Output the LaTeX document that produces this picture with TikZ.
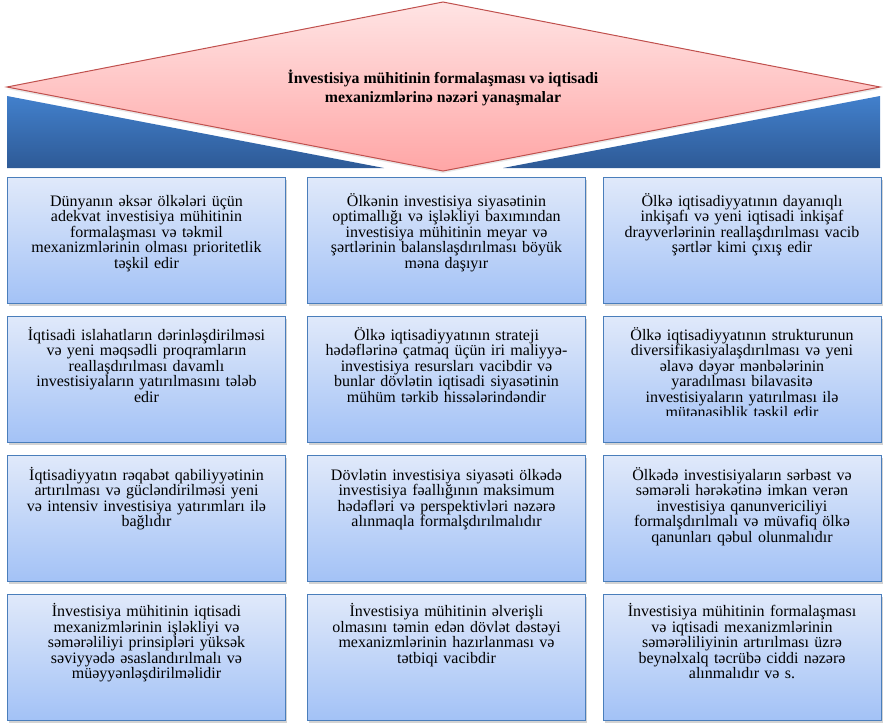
\documentclass[tikz,border=0pt]{standalone}
\usepackage{fontspec}
\setmainfont{Liberation Serif}
\usetikzlibrary{positioning,shadows}
\definecolor{boxtop}{RGB}{224,233,250}
\definecolor{boxbot}{RGB}{163,194,246}
\definecolor{boxline}{RGB}{74,126,187}
\definecolor{pinktop}{RGB}{255,228,228}
\definecolor{pinkbot}{RGB}{255,166,166}
\definecolor{redline}{RGB}{192,80,77}
\definecolor{wedgetop}{RGB}{66,128,204}
\definecolor{wedgebot}{RGB}{46,90,150}
\tikzset{
  infobox/.style={draw=boxline,line width=1pt,top color=boxtop,bottom color=boxbot,
    minimum width=278pt,minimum height=126pt,inner sep=0pt,
    drop shadow={shadow xshift=1.5pt,shadow yshift=-2.5pt,opacity=.35}},
  infotext/.style={text width=290pt,align=center,inner sep=0pt,
    font={\fontsize{16}{15.5}\selectfont\lineskiplimit=-20pt},
    execute at begin node={\rule{0pt}{14pt}}},
  wedge/.style={top color=wedgetop,bottom color=wedgebot},
}

\begin{document}
\begin{tikzpicture}[x=1pt,y=-1pt]
\useasboundingbox (0,0) rectangle (884,723);
% blue wedges under the title
\shade[wedge] (7,96) -- (384,168) -- (7,168) -- cycle;
\shade[wedge] (880,96) -- (503,168) -- (880,168) -- cycle;
% title diamond
\path[draw=redline,line width=1pt,top color=pinktop,bottom color=pinkbot,
  drop shadow={shadow xshift=0pt,shadow yshift=-2pt,opacity=.18}]
  (7,87) -- (443,2) -- (880,87) -- (443,171) -- cycle;
\node[font={\bfseries\fontsize{15.8}{19}\selectfont},align=center] (title) at (443,88)
  {İnvestisiya mühitinin formalaşması və iqtisadi\\ mexanizmlərinə nəzəri yanaşmalar};

% row 1
\node[infobox] (b11) at (146.5,240.5) {};
\node[infobox] (b12) at (446.5,240.5) {};
\node[infobox] (b13) at (742,240.5) {};
\node[infotext,below=15pt of b11.north] (t11) {Dünyanın əksər ölkələri üçün\\ adekvat investisiya mühitinin\\ formalaşması və təkmil\\ mexanizmlərinin olması prioritetlik\\ təşkil edir};
\node[infotext,below=15pt of b12.north] (t12) {Ölkənin investisiya siyasətinin\\ optimallığı və işləkliyi baxımından\\ investisiya mühitinin meyar və\\ şərtlərinin balanslaşdırılması böyük\\ məna daşıyır};
\node[infotext,below=15pt of b13.north] (t13) {Ölkə iqtisadiyyatının dayanıqlı\\ inkişafı və yeni iqtisadi inkişaf\\ drayverlərinin reallaşdırılması vacib\\ şərtlər kimi çıxış edir};

% row 2
\node[infobox] (b21) at (146.5,379.5) {};
\node[infobox] (b22) at (446.5,379.5) {};
\node[infobox] (b23) at (742,379.5) {};
\node[infotext,below=10pt of b21.north] (t21) {İqtisadi islahatların dərinləşdirilməsi\\ və yeni məqsədli proqramların\\ reallaşdırılması davamlı\\ investisiyaların yatırılmasını tələb\\ edir};
\node[infotext,below=10pt of b22.north] (t22) {Ölkə iqtisadiyyatının strateji\\ hədəflərinə çatmaq üçün iri maliyyə-\\ investisiya resursları vacibdir və\\ bunlar dövlətin iqtisadi siyasətinin\\ mühüm tərkib hissələrindəndir};
\begin{scope}
\clip (604,317) rectangle (880,415);
\node[infotext,below=10pt of b23.north] (t23) {Ölkə iqtisadiyyatının strukturunun\\ diversifikasiyalaşdırılması və yeni\\ əlavə dəyər mənbələrinin\\ yaradılması bilavasitə\\ investisiyaların yatırılması ilə\\ mütənasiblik təşkil edir};
\end{scope}

% row 3
\node[infobox] (b31) at (146.5,518.5) {};
\node[infobox] (b32) at (446.5,518.5) {};
\node[infobox] (b33) at (742,518.5) {};
\node[infotext,below=11pt of b31.north] (t31) {İqtisadiyyatın rəqabət qabiliyyətinin\\ artırılması və gücləndirilməsi yeni\\ və intensiv investisiya yatırımları ilə\\ bağlıdır};
\node[infotext,below=11pt of b32.north] (t32) {Dövlətin investisiya siyasəti ölkədə\\ investisiya fəallığının maksimum\\ hədəfləri və perspektivləri nəzərə\\ alınmaqla formalşdırılmalıdır};
\node[infotext,below=11pt of b33.north] (t33) {Ölkədə investisiyaların sərbəst və\\ səmərəli hərəkətinə imkan verən\\ investisiya qanunvericiliyi\\ formalşdırılmalı və müvafiq ölkə\\ qanunları qəbul olunmalıdır};

% row 4
\node[infobox] (b41) at (146.5,657) {};
\node[infobox] (b42) at (446.5,657) {};
\node[infobox] (b43) at (742,657) {};
\node[infotext,below=9pt of b41.north] (t41) {İnvestisiya mühitinin iqtisadi\\ mexanizmlərinin işləkliyi və\\ səmərəliliyi prinsipləri yüksək\\ səviyyədə əsaslandırılmalı və\\ müəyyənləşdirilməlidir};
\node[infotext,below=9pt of b42.north] (t42) {İnvestisiya mühitinin əlverişli\\ olmasını təmin edən dövlət dəstəyi\\ mexanizmlərinin hazırlanması və\\ tətbiqi vacibdir};
\node[infotext,below=9pt of b43.north] (t43) {İnvestisiya mühitinin formalaşması\\ və iqtisadi mexanizmlərinin\\ səmərəliliyinin artırılması üzrə\\ beynəlxalq təcrübə ciddi nəzərə\\ alınmalıdır və s.};
\end{tikzpicture}
\end{document}
